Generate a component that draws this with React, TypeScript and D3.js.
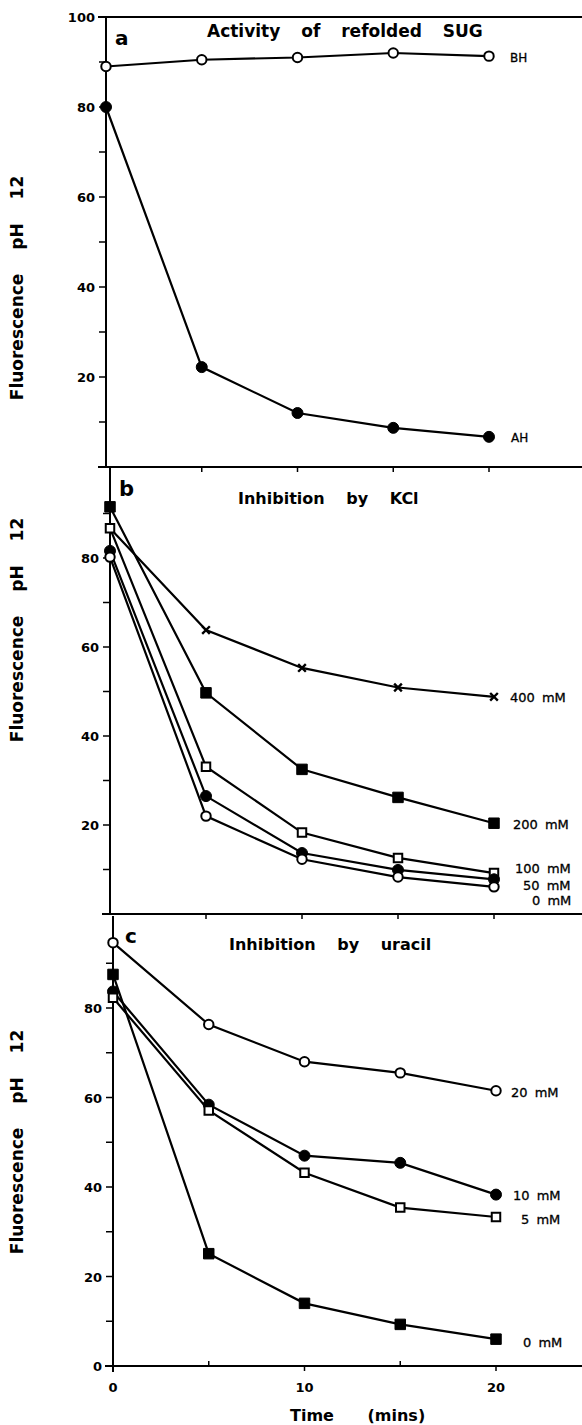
import React from 'react';
import * as d3 from 'd3';

// ---------- data ----------
const TIME = [0, 5, 10, 15, 20];

// panel a: activity of refolded SUG
const A_BH = [89, 90.5, 91, 92, 91.3];
const A_AH = [80, 22.2, 12, 8.7, 6.7];

// panel b: inhibition by KCl
const B_400 = [86.7, 63.8, 55.3, 50.9, 48.8];
const B_200 = [91.5, 49.7, 32.5, 26.2, 20.4];
const B_100 = [86.7, 33.1, 18.3, 12.6, 9.2];
const B_50 = [81.6, 26.5, 13.7, 9.9, 7.8];
const B_0 = [80.2, 22.0, 12.3, 8.3, 6.1];

// panel c: inhibition by uracil
const C_20 = [94.6, 76.3, 68, 65.5, 61.5];
const C_10 = [83.7, 58.4, 47.0, 45.4, 38.3];
const C_5 = [82.3, 57.1, 43.2, 35.4, 33.3];
const C_0 = [87.5, 25.1, 14.0, 9.3, 6.0];

const Y_TICKS = [0, 10, 20, 30, 40, 50, 60, 70, 80, 90, 100];
const X_TICKS = [5, 10, 15, 20];
const X_TICK_LABELS = [0, 10, 20];

type Kind = 'openCircle' | 'filledCircle' | 'openSquare' | 'filledSquare' | 'times';

const FONT = 'DejaVu Sans, Liberation Sans, sans-serif';

function Marker({ kind, x, y }: { kind: Kind; x: number; y: number }) {
  let type: any = d3.symbolCircle;
  let size = 70;
  if (kind === 'openSquare' || kind === 'filledSquare') {
    type = d3.symbolSquare;
    size = kind === 'openSquare' ? 72 : 110;
  }
  if (kind === 'times') {
    type = (d3 as any).symbolTimes || (d3 as any).symbolX || d3.symbolCross;
    size = 40;
  }
  if (kind === 'filledCircle') size = 95;
  const d = d3.symbol().type(type).size(size)() || '';
  const open = kind === 'openCircle' || kind === 'openSquare';
  const isTimes = kind === 'times';
  return (
    <path
      d={d}
      transform={`translate(${x},${y})`}
      fill={isTimes ? 'none' : open ? '#fff' : '#000'}
      stroke="#000"
      strokeWidth={isTimes ? 2.4 : open ? 2 : 1}
    />
  );
}

type SeriesDef = { values: number[]; kind: Kind; label: string; lx: number; ly: number; size?: number };

type PanelDef = {
  x0: number;
  x20: number;
  yBottom: number;
  yTop: number; // pixel at value 100
  lineTop: number; // pixel of top border line
  tickLabels: number[];
  minorTicks: number[];
  series: SeriesDef[];
  letter: string;
  letterPos: [number, number];
  letterSize: number;
  title: string;
  titlePos: [number, number];
  titleSize: number;
  titleSpacing: number;
  yLabelCenter: number;
};

const PANELS: PanelDef[] = [
  {
    x0: 106,
    x20: 489,
    yBottom: 467,
    yTop: 17,
    lineTop: 17,
    tickLabels: [20, 40, 60, 80, 100],
    minorTicks: [10, 30, 50, 70, 90],
    series: [
      { values: A_BH, kind: 'openCircle', label: 'BH', lx: 510, ly: 62, size: 12 },
      { values: A_AH, kind: 'filledCircle', label: 'AH', lx: 511, ly: 442, size: 12 },
    ],
    letter: 'a',
    letterPos: [115, 45],
    letterSize: 20,
    title: 'Activity of refolded SUG',
    titlePos: [207, 37],
    titleSize: 17,
    titleSpacing: 15,
    yLabelCenter: 288,
  },
  {
    x0: 110,
    x20: 494,
    yBottom: 914,
    yTop: 469,
    lineTop: 467,
    tickLabels: [20, 40, 60, 80],
    minorTicks: [10, 30, 50, 70, 90],
    series: [
      { values: B_400, kind: 'times', label: '400 mM', lx: 510, ly: 702 },
      { values: B_200, kind: 'filledSquare', label: '200 mM', lx: 513, ly: 829 },
      { values: B_100, kind: 'openSquare', label: '100 mM', lx: 515, ly: 873 },
      { values: B_50, kind: 'filledCircle', label: '50 mM', lx: 523, ly: 890 },
      { values: B_0, kind: 'openCircle', label: '0 mM', lx: 532, ly: 905 },
    ],
    letter: 'b',
    letterPos: [119, 496],
    letterSize: 21,
    title: 'Inhibition by KCl',
    titlePos: [238, 504],
    titleSize: 16,
    titleSpacing: 16,
    yLabelCenter: 630,
  },
  {
    x0: 113,
    x20: 496,
    yBottom: 1366,
    yTop: 918.5,
    lineTop: 916,
    tickLabels: [0, 20, 40, 60, 80],
    minorTicks: [10, 30, 50, 70, 90],
    series: [
      { values: C_20, kind: 'openCircle', label: '20 mM', lx: 511, ly: 1097 },
      { values: C_10, kind: 'filledCircle', label: '10 mM', lx: 513, ly: 1200 },
      { values: C_5, kind: 'openSquare', label: '5 mM', lx: 521, ly: 1224 },
      { values: C_0, kind: 'filledSquare', label: '0 mM', lx: 523, ly: 1347 },
    ],
    letter: 'c',
    letterPos: [125, 943],
    letterSize: 20,
    title: 'Inhibition by uracil',
    titlePos: [229, 950],
    titleSize: 16,
    titleSpacing: 16,
    yLabelCenter: 1142,
  },
];

const W = 582;
const H = 1425;

function Panel({ p, isLast }: { p: PanelDef; isLast: boolean }) {
  const x = d3.scaleLinear().domain([0, 20]).range([p.x0, p.x20]);
  const y = d3.scaleLinear().domain([0, 100]).range([p.yBottom, p.yTop]);
  const line = d3
    .line<number>()
    .x((_, i) => x(TIME[i]))
    .y((v) => y(v));

  return (
    <g>
      {/* y axis */}
      <line x1={x(0)} x2={x(0)} y1={p.lineTop} y2={p.yBottom + (isLast ? 6 : 0)} stroke="#000" strokeWidth={2} />
      {/* top border for first panel */}
      {p.lineTop === p.yTop && (
        <line x1={x(0) - 8} x2={W} y1={p.lineTop} y2={p.lineTop} stroke="#000" strokeWidth={2} />
      )}
      {/* bottom axis line */}
      <line x1={x(0) - 8} x2={W} y1={p.yBottom} y2={p.yBottom} stroke="#000" strokeWidth={2} />
      {/* x ticks */}
      {X_TICKS.map((t) => {
        const down = !isLast || t % 10 === 0;
        return (
          <line
            key={t}
            x1={x(t)}
            x2={x(t)}
            y1={p.yBottom}
            y2={p.yBottom + (down ? 5 : -5)}
            stroke="#000"
            strokeWidth={1.5}
          />
        );
      })}
      {/* y ticks */}
      {Y_TICKS.filter((t) => p.tickLabels.includes(t) || p.minorTicks.includes(t)).map((t) => (
        <line key={t} x1={x(0) - 7} x2={x(0)} y1={y(t)} y2={y(t)} stroke="#000" strokeWidth={1.5} />
      ))}
      {p.tickLabels.map((t) => (
        <text
          key={t}
          x={x(0) - 11}
          y={y(t) + 5}
          textAnchor="end"
          fontFamily={FONT}
          fontWeight="bold"
          fontSize={13}
        >
          {t}
        </text>
      ))}
      {/* y axis label */}
      <text
        transform={`translate(23,${p.yLabelCenter}) rotate(-90)`}
        textAnchor="middle"
        fontFamily={FONT}
        fontWeight="bold"
        fontSize={17}
        style={{ wordSpacing: '18px' }}
      >
        Fluorescence pH 12
      </text>
      {/* letter + title */}
      <text x={p.letterPos[0]} y={p.letterPos[1]} fontFamily={FONT} fontWeight="bold" fontSize={p.letterSize}>
        {p.letter}
      </text>
      <text
        x={p.titlePos[0]}
        y={p.titlePos[1]}
        fontFamily={FONT}
        fontWeight="bold"
        fontSize={p.titleSize}
        style={{ wordSpacing: `${p.titleSpacing}px` }}
      >
        {p.title}
      </text>
      {/* lines */}
      {p.series.map((s, i) => (
        <path key={i} d={line(s.values) || ''} fill="none" stroke="#000" strokeWidth={2.2} />
      ))}
      {/* markers */}
      {p.series.map((s, i) => (
        <g key={i}>
          {s.values.map((v, j) => (
            <Marker key={j} kind={s.kind} x={x(TIME[j])} y={y(v)} />
          ))}
        </g>
      ))}
      {/* series labels */}
      {p.series.map((s, i) => (
        <text
          key={i}
          x={s.lx}
          y={s.ly}
          fontFamily={FONT}
          fontSize={s.size || 13}
          stroke="#000"
          strokeWidth={0.3}
          style={{ wordSpacing: '3px' }}
        >
          {s.label}
        </text>
      ))}
      {/* bottom tick labels */}
      {isLast &&
        X_TICK_LABELS.map((t) => (
          <text
            key={t}
            x={x(t)}
            y={p.yBottom + 26}
            textAnchor="middle"
            fontFamily={FONT}
            fontWeight="bold"
            fontSize={13}
          >
            {t}
          </text>
        ))}
    </g>
  );
}

export default function App() {
  return (
    <div style={{ position: 'absolute', left: 0, top: 0 }}>
      <svg width={W} height={H} style={{ display: 'block', background: '#fff' }}>
        <rect x={0} y={0} width={W} height={H} fill="#fff" />
        {PANELS.map((p, i) => (
          <Panel key={i} p={p} isLast={i === PANELS.length - 1} />
        ))}
        <text
          x={290}
          y={1421}
          fontFamily={FONT}
          fontWeight="bold"
          fontSize={16}
          style={{ wordSpacing: '28px' }}
        >
          Time (mins)
        </text>
      </svg>
    </div>
  );
}
